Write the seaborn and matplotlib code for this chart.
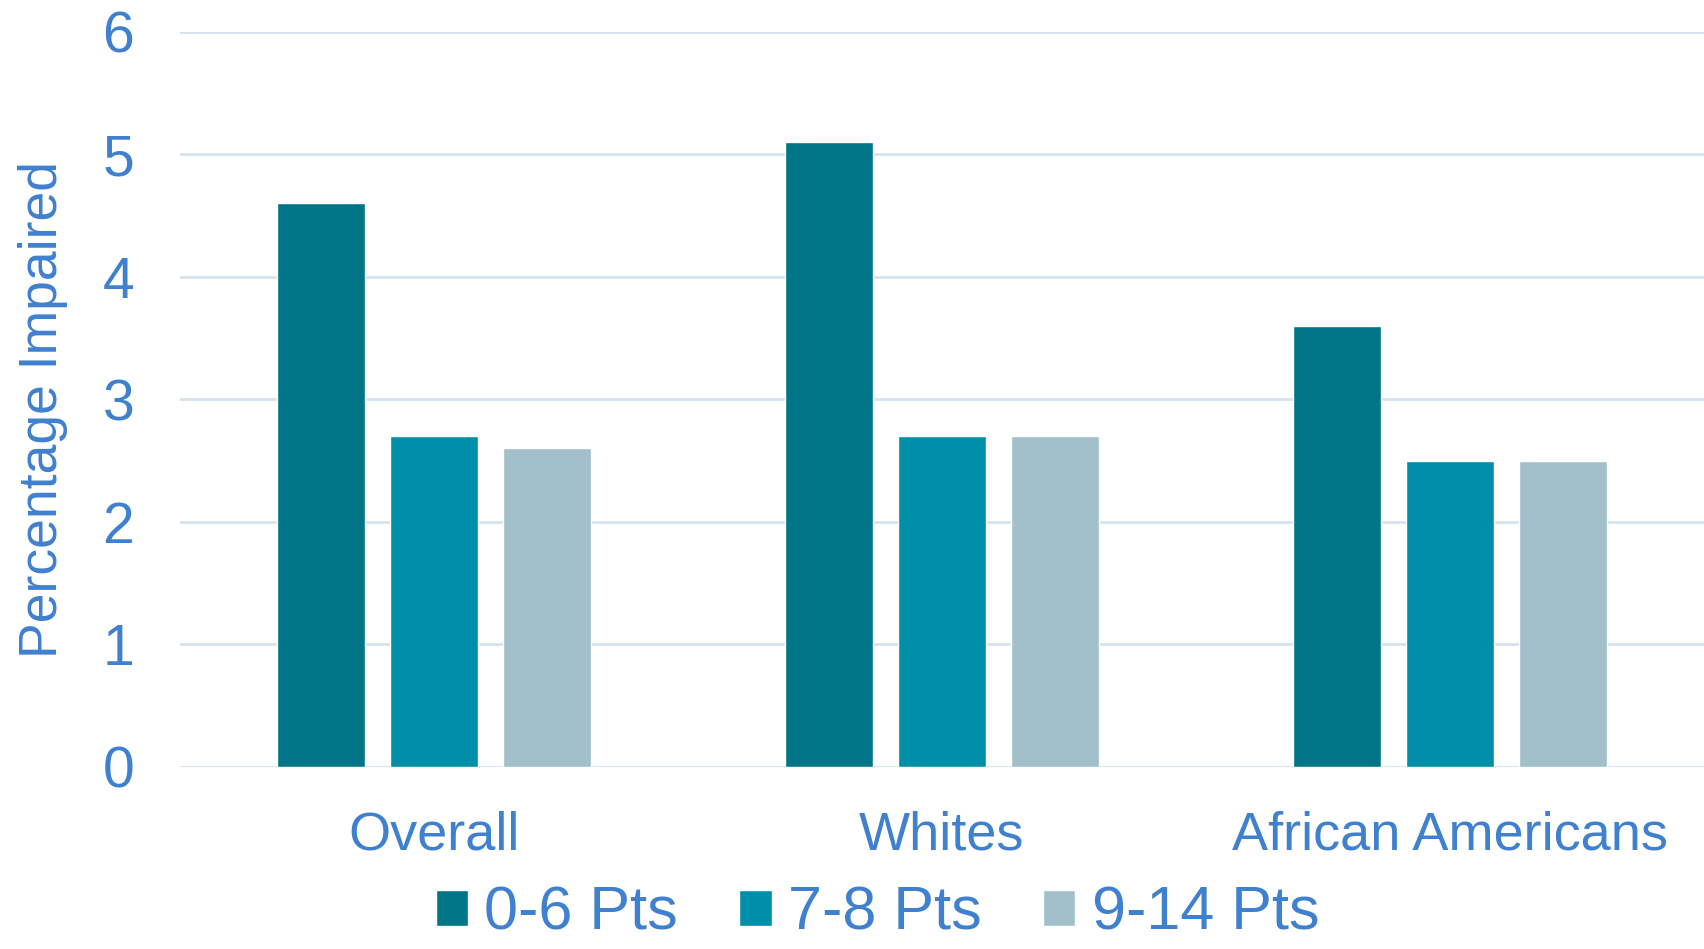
import matplotlib
matplotlib.use("Agg")
import matplotlib.pyplot as plt
import seaborn as sns
import pandas as pd

groups = ["Overall", "Whites", "African Americans"]
score_bands = ["0-6 Pts", "7-8 Pts", "9-14 Pts"]
pts_0_6 = [4.6, 5.1, 3.6]
pts_7_8 = [2.7, 2.7, 2.5]
pts_9_14 = [2.6, 2.7, 2.5]
y_ticks = [0, 1, 2, 3, 4, 5, 6]

palette = ["#007587", "#008FA8", "#A2C0CA"]
text_blue = "#3F80CF"
grid_blue = "#D5E3F1"

rows = []
for band, vals in zip(score_bands, [pts_0_6, pts_7_8, pts_9_14]):
    for g, v in zip(groups, vals):
        rows.append({"group": g, "band": band, "value": v})
df = pd.DataFrame(rows)

sns.set_theme(style="white")
plt.rcParams["font.family"] = ["Liberation Sans", "DejaVu Sans"]

fig = plt.figure(figsize=(17.04, 9.49), dpi=100)
ax = fig.add_axes([0.1056, 0.1918, 0.8944, 0.775])

sns.barplot(data=df, x="group", y="value", hue="band", order=groups,
            hue_order=score_bands, palette=palette, width=0.668, gap=0.22,
            saturation=1, ax=ax, zorder=3)

ax.set_xlim(-0.5, 2.5)
ax.set_ylim(0, 6)
ax.set_yticks(y_ticks)
ax.yaxis.grid(True, color=grid_blue, linewidth=2, zorder=0)
ax.set_axisbelow(True)
for s in ax.spines.values():
    s.set_visible(False)

ax.tick_params(axis="both", length=0, labelcolor=text_blue)
ax.tick_params(axis="y", pad=33, labelsize=41)
ax.tick_params(axis="x", pad=31, labelsize=39)
ax.set_xlabel("")
ax.set_ylabel("Percentage Impaired", fontsize=38.5, color=text_blue, labelpad=25)
ax.yaxis.label.set_y(0.486)

handles, labels = ax.get_legend_handles_labels()
ax.legend_.remove()
fig.legend(handles, labels, loc="center", bbox_to_anchor=(0.515, 0.037),
           ncol=3, frameon=False, fontsize=44, labelcolor=text_blue,
           handlelength=0.53, handleheight=0.53, handletextpad=0.27,
           columnspacing=1.0, borderpad=0.0)

fig.savefig("out.png", dpi=100)
